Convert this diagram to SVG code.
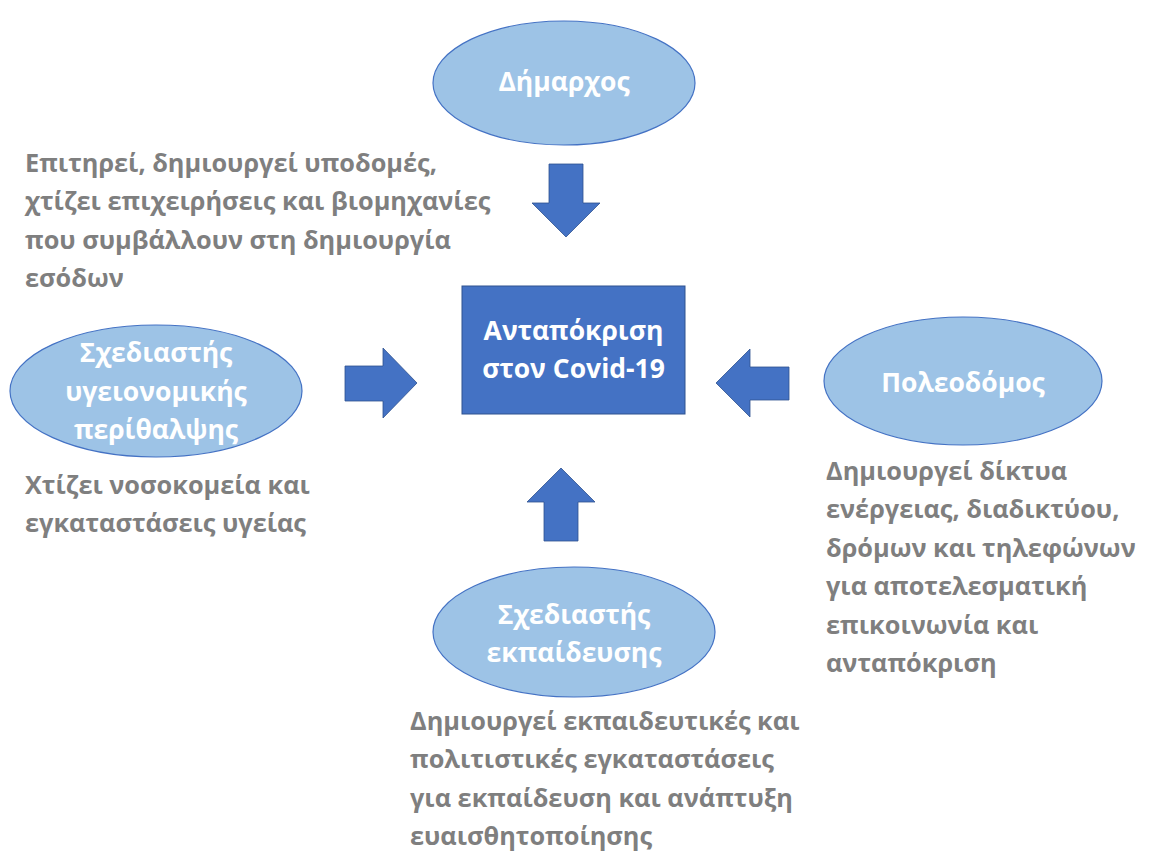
<svg xmlns="http://www.w3.org/2000/svg" width="1150" height="852" viewBox="0 0 1150 852">
<style>
.ell{fill:#9DC3E6;stroke:#4472C4;stroke-width:1.2}
.box{fill:#4472C4;stroke:#2F528F;stroke-width:1}
.arr{fill:#4472C4;stroke:#2F528F;stroke-width:0.8}
.lbl{font-family:"Open Sans","Noto Sans",sans-serif;font-weight:bold;font-size:26.5px;fill:#FFFFFF;text-anchor:middle}
.desc{font-family:"Open Sans","Noto Sans",sans-serif;font-weight:bold;font-size:25.3px;fill:#7F7F7F}
</style>
<rect width="1150" height="852" fill="#FFFFFF"/>
<g id="center">
<rect class="box" x="462" y="286" width="223" height="128"/>
<text class="lbl"><tspan x="573.5" y="340">Ανταπόκριση</tspan><tspan x="573.5" y="378">στον Covid-19</tspan></text>
</g>
<g id="mayor">
<ellipse class="ell" cx="564" cy="83" rx="131" ry="62"/>
<text class="lbl" x="564" y="91">Δήμαρχος</text>
<text class="desc"><tspan x="25" y="172">Επιτηρεί, δημιουργεί υποδομές,</tspan><tspan x="25" y="210">χτίζει επιχειρήσεις και βιομηχανίες</tspan><tspan x="25" y="249">που συμβάλλουν στη δημιουργία</tspan><tspan x="25" y="287">εσόδων</tspan></text>
</g>
<g id="health">
<ellipse class="ell" cx="156" cy="391" rx="146" ry="66"/>
<text class="lbl"><tspan x="156" y="362">Σχεδιαστής</tspan><tspan x="156" y="401">υγειονομικής</tspan><tspan x="156" y="439">περίθαλψης</tspan></text>
<text class="desc"><tspan x="25" y="494">Χτίζει νοσοκομεία και</tspan><tspan x="25" y="532">εγκαταστάσεις υγείας</tspan></text>
</g>
<g id="planner">
<ellipse class="ell" cx="963" cy="381" rx="139" ry="64"/>
<text class="lbl" x="963" y="392">Πολεοδόμος</text>
<text class="desc"><tspan x="826" y="480">Δημιουργεί δίκτυα</tspan><tspan x="826" y="518">ενέργειας, διαδικτύου,</tspan><tspan x="826" y="557">δρόμων και τηλεφώνων</tspan><tspan x="826" y="595">για αποτελεσματική</tspan><tspan x="826" y="634">επικοινωνία και</tspan><tspan x="826" y="672">ανταπόκριση</tspan></text>
</g>
<g id="education">
<ellipse class="ell" cx="574" cy="632" rx="141" ry="65"/>
<text class="lbl"><tspan x="574" y="624">Σχεδιαστής</tspan><tspan x="574" y="662">εκπαίδευσης</tspan></text>
<text class="desc"><tspan x="410" y="730">Δημιουργεί εκπαιδευτικές και</tspan><tspan x="410" y="768">πολιτιστικές εγκαταστάσεις</tspan><tspan x="410" y="807">για εκπαίδευση και ανάπτυξη</tspan><tspan x="410" y="845">ευαισθητοποίησης</tspan></text>
</g>
<g id="connectors">
<polygon class="arr" points="549,164 583,164 583,203 600,203 566,237 532,203 549,203"/>
<polygon class="arr" points="345,366 383,366 383,348 417,383 383,418 383,401 345,401"/>
<polygon class="arr" points="789,367 750,367 750,349 716,383 750,417 750,400 789,400"/>
<polygon class="arr" points="544,541 578,541 578,502 595,502 561,468 527,502 544,502"/>
</g>
</svg>
